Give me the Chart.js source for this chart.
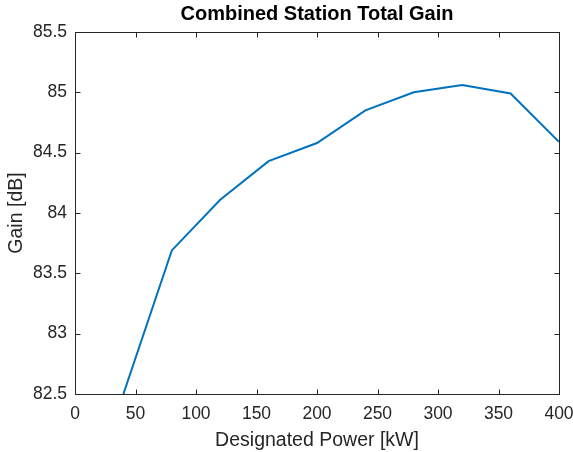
<!DOCTYPE html>
<html>
<head>
<meta charset="utf-8">
<script src="https://cdn.jsdelivr.net/npm/chart.js@4"></script>
<style>
  html, body { margin: 0; padding: 0; background: #fff; }
  canvas { display: block; }
</style>
</head>
<body>
<canvas id="gainChart" width="573" height="452"></canvas>
<script>
// designated power steps and the gain
const powerKW = [40, 80, 120, 160, 200, 240, 280, 320, 360, 400];
const gainDB = [82.5, 83.69, 84.11, 84.43, 84.58, 84.85, 85.0, 85.06, 84.99, 84.59];

const xTicks = [0, 50, 100, 150, 200, 250, 300, 350, 400];
const yTicks = [82.5, 83, 83.5, 84, 84.5, 85, 85.5];

const axisColor = "#262626";
const fontFamily = "'Liberation Sans', Arial, Helvetica, sans-serif";

// matlab style box with inward ticks on all four sides
const boxPlugin = {
  id: "matlabBox",
  afterDraw(chart) {
    const { ctx, chartArea, scales } = chart;
    const l = Math.round(chartArea.left) + 0.5;
    const r = Math.round(chartArea.right) + 0.5;
    const t = Math.round(chartArea.top) + 0.5;
    const b = Math.round(chartArea.bottom) + 0.5;
    const len = 5;
    ctx.save();
    ctx.strokeStyle = axisColor;
    ctx.lineWidth = 1;
    ctx.strokeRect(l, t, r - l, b - t);
    ctx.beginPath();
    xTicks.forEach((v) => {
      const px = Math.round(scales.x.getPixelForValue(v)) + 0.5;
      ctx.moveTo(px, b);
      ctx.lineTo(px, b - len);
      ctx.moveTo(px, t);
      ctx.lineTo(px, t + len);
    });
    yTicks.forEach((v) => {
      const py = Math.round(scales.y.getPixelForValue(v)) + 0.5;
      ctx.moveTo(l, py);
      ctx.lineTo(l + len, py);
      ctx.moveTo(r, py);
      ctx.lineTo(r - len, py);
    });
    ctx.stroke();
    ctx.restore();
  },
};

const ctx = document.getElementById("gainChart").getContext("2d");

new Chart(ctx, {
  type: "line",
  data: {
    datasets: [
      {
        data: powerKW.map((p, i) => ({ x: p, y: gainDB[i] })),
        borderColor: "#0072BD",
        borderWidth: 2,
        pointRadius: 0,
        tension: 0,
        fill: false,
      },
    ],
  },
  options: {
    responsive: false,
    devicePixelRatio: 1,
    animation: false,
    layout: { padding: { left: 0, right: 14, top: 2, bottom: 0 } },
    plugins: {
      legend: { display: false },
      tooltip: { enabled: false },
      title: {
        display: true,
        text: "Combined Station Total Gain",
        color: "#000",
        fullSize: false,
        font: { family: fontFamily, size: 20, weight: "bold" },
        padding: { top: 0, bottom: 6 },
      },
    },
    scales: {
      x: {
        type: "linear",
        min: 0,
        max: 400,
        afterBuildTicks: (scale) => {
          scale.ticks = xTicks.map((v) => ({ value: v }));
        },
        afterFit: (scale) => {
          scale.height = 58;
          scale.paddingLeft = 0;
          scale.paddingRight = 0;
        },
        grid: { display: false, drawTicks: false },
        border: { display: false },
        ticks: {
          color: axisColor,
          padding: 10,
          maxRotation: 0,
          font: { family: fontFamily, size: 17.5 },
          callback: (v) => String(v),
        },
        title: {
          display: true,
          text: "Designated Power [kW]",
          color: axisColor,
          font: { family: fontFamily, size: 19.5 },
          padding: { top: 0, bottom: 0 },
        },
      },
      y: {
        type: "linear",
        min: 82.5,
        max: 85.5,
        afterBuildTicks: (scale) => {
          scale.ticks = yTicks.map((v) => ({ value: v }));
        },
        afterFit: (scale) => {
          scale.width = 75;
          scale.paddingTop = 0;
          scale.paddingBottom = 0;
        },
        grid: { display: false, drawTicks: false },
        border: { display: false },
        ticks: {
          color: axisColor,
          padding: 8,
          font: { family: fontFamily, size: 17.5 },
          callback: (v) => String(v),
        },
        title: {
          display: true,
          text: "Gain [dB]",
          color: axisColor,
          font: { family: fontFamily, size: 19.5 },
          padding: { top: 5, bottom: 0 },
        },
      },
    },
  },
  plugins: [boxPlugin],
});
</script>
</body>
</html>
